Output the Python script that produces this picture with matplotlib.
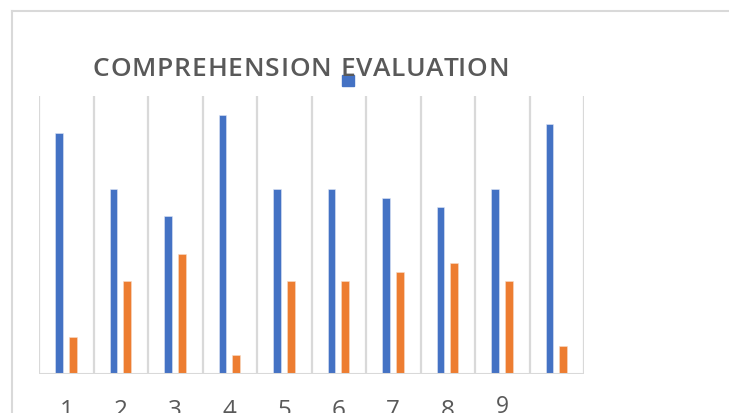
import matplotlib
matplotlib.use("Agg")
import matplotlib.pyplot as plt
from matplotlib.patches import Rectangle
from matplotlib.lines import Line2D
import numpy as np

# comprehension scores per participant (out of 30)
participants = [1, 2, 3, 4, 5, 6, 7, 8, 9, 10]
correct = [26, 20, 17, 28, 20, 20, 19, 18, 20, 27]
wrong = [4, 10, 13, 2, 10, 10, 11, 12, 10, 3]
tick_labels = ["1", "2", "3", "4", "5", "6", "7", "8", "9"]
title = "COMPREHENSION EVALUATION"

BLUE = "#4472C4"
ORANGE = "#ED7D31"
GRID = "#D9D9D9"
TEXT = "#595959"

W, H = 729, 414
fig = plt.figure(figsize=(W / 100, H / 100), dpi=100)
ax = fig.add_axes([39 / W, (H - 375) / H, (584 - 39) / W, (375 - 97) / H])

x = np.arange(len(participants))
ax.bar(x - 0.135, correct, width=0.14, color=BLUE, edgecolor="#dfe6f5", linewidth=0.4, zorder=3)
ax.bar(x + 0.12, wrong, width=0.14, color=ORANGE, edgecolor="#f8dcc8", linewidth=0.4, zorder=3)

ax.set_xlim(-0.5, len(participants) - 0.5)
ax.set_ylim(0, 30)
for gx in np.arange(-0.5, len(participants), 1.0):
    ax.axvline(gx, color=GRID, lw=1.6, zorder=1)
ax.axhline(0, color=GRID, lw=2.2, zorder=4)

for s in ax.spines.values():
    s.set_visible(False)
ax.set_xticks([])
ax.set_yticks([])

# category labels below the axis (last one has none)
for i, lab in enumerate(tick_labels):
    top, size = (395, 16.5) if lab == "9" else (399, 17.5)
    ax.text(i, 1 - (top - 97) / (375 - 97), lab, transform=ax.get_xaxis_transform(),
            ha="center", va="top", fontsize=size, color=TEXT, family="Open Sans")

# letter-spaced title: place each character by prefix width plus tracking
renderer = fig.canvas.get_renderer()
tkw = dict(fontsize=19, color=TEXT, family="Open Sans", fontweight="semibold")

def text_width(s):
    if not s:
        return 0.0
    t = fig.text(0, 0, s, **tkw)
    w = t.get_window_extent(renderer).width
    t.remove()
    return w

x0, x1 = 93, 509
natural = text_width(title)
track = (x1 - x0 - natural) / (len(title) - 1)
for i, ch in enumerate(title):
    if ch == " ":
        continue
    px = x0 + text_width(title[:i]) + i * track
    fig.text(px / W, 1 - 69 / H, ch, ha="left", va="center", **tkw)

# legend swatch
fig.add_artist(Rectangle((342 / W, 1 - 87 / H), 12 / W, 11 / H, color=BLUE, transform=fig.transFigure))

# outer chart border
fig.add_artist(Line2D([12 / W, 12 / W], [0, 1 - 12 / H], color=GRID, lw=1.5, transform=fig.transFigure))
fig.add_artist(Line2D([12 / W, 1], [1 - 12 / H, 1 - 12 / H], color=GRID, lw=1.5, transform=fig.transFigure))

fig.savefig("out.png", dpi=100)
